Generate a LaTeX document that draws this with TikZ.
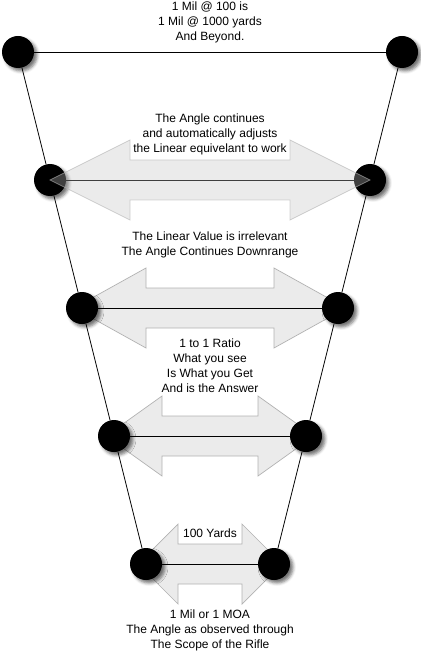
\documentclass[tikz,border=0pt]{standalone}
\usepackage{fontspec}
\setmainfont{Liberation Sans}
\usetikzlibrary{shadows.blur}
\pgfdeclarelayer{background}
\pgfsetlayers{background,main}
\begin{document}
\begin{tikzpicture}[x=1pt,y=-1pt]
	\tikzstyle{every node} = [font = \fontsize{12}{15}\selectfont, align = center, inner sep = 0pt]
	\tikzstyle{dot} = [circle, fill = black, minimum size = 32pt, blur shadow = {shadow xshift = 3pt, shadow yshift = -3pt, shadow blur radius = 3pt, shadow opacity = 55}]
	\tikzstyle{bigarrow} = [draw = black!30, fill = black!8, line width = .7pt]
	\tikzstyle{rung} = [line width = .8pt]
	\useasboundingbox (0,0) rectangle (420,652);

	% dots, left and right
	\foreach \i/\d in {1/192, 2/160, 3/128, 4/96, 5/64}
	{
		\node [dot] (l\i) at (210-\d, {52+128*(\i-1)}) {};
		\node [dot] (r\i) at (210+\d, {52+128*(\i-1)}) {};
	}

	\begin{pgfonlayer}{background}
	% double arrows under the dots
	\foreach \y/\t/\b in {308/136/64, 436/104/48, 564/72/32}
	{
		\draw [bigarrow] (210-\t,\y) -- (210-\b,\y-40) -- (210-\b,\y-20) -- (210+\b,\y-20) -- (210+\b,\y-40) -- (210+\t,\y)
			-- (210+\b,\y+40) -- (210+\b,\y+20) -- (210-\b,\y+20) -- (210-\b,\y+40) -- cycle;
	}
	% rungs and sides
	\foreach \i in {1,...,5}
	{
		\draw [rung] (l\i) -- (r\i);
	}
	\foreach \i/\j in {1/2, 2/3, 3/4, 4/5}
	{
		\draw [rung] (l\i) -- (l\j); %left side
		\draw [rung] (r\i) -- (r\j); %right side
	}
	\end{pgfonlayer}

	% this one lies over the dots
	\draw [bigarrow, fill = black!24, fill opacity = .33, draw opacity = .6] (210-160,180) -- (210-80,140) -- (210-80,160) -- (210+80,160) -- (210+80,140) -- (210+160,180)
		-- (210+80,220) -- (210+80,200) -- (210-80,200) -- (210-80,220) -- cycle;

	% labels
	\node (t1) at (210,22) {1 Mil @ 100 is\\1 Mil @ 1000 yards\\And Beyond.};
	\node (t2) at (210,134) {The Angle continues\\and automatically adjusts\\the Linear equivelant to work};
	\node (t3) at (210,245) {The Linear Value is irrelevant\\The Angle Continues Downrange};
	\node (t4) at (210,366) {1 to 1 Ratio\\What you see\\Is What you Get\\And is the Answer};
	\node (t5) at (210,533) {100 Yards};
	\node (t6) at (210,630) {1 Mil or 1 MOA\\The Angle as observed through\\The Scope of the Rifle};
\end{tikzpicture}
\end{document}
